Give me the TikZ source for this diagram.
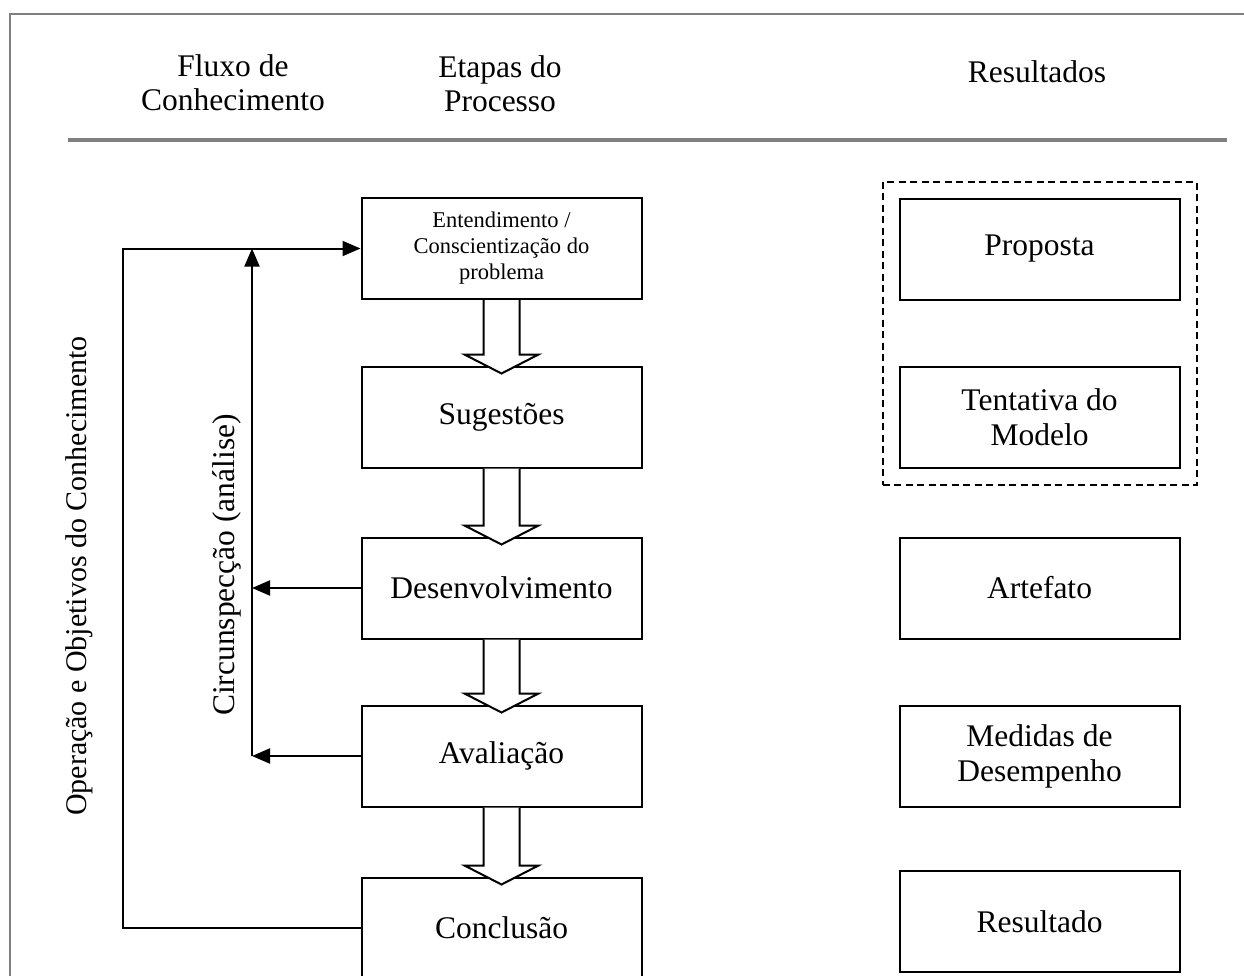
\documentclass[tikz,border=0pt]{standalone}
\usepackage{fontspec}
\setmainfont{Liberation Serif}
\usetikzlibrary{arrows.meta,calc,fit}
\definecolor{framegray}{RGB}{128,128,128}
\tikzset{
  stagebox/.style={draw=black, line width=2pt, fill=white, minimum width=280pt, minimum height=101pt, inner sep=0pt, align=center, font=\fontsize{31.5}{35}\selectfont},
  smalltext/.style={font=\fontsize{22.5}{26}\selectfont},
  headtext/.style={align=center, inner sep=0pt, font=\fontsize{31.5}{34}\selectfont},
  sidelabel/.style={rotate=90, inner sep=0pt, font=\fontsize{31.5}{35}\selectfont},
  conn/.style={draw=black, line width=2pt},
  tip/.style={-{Triangle[length=18pt,width=15pt]}},
  blk/.style={draw=black, line width=2pt, fill=white, line join=miter},
  dashbox/.style={draw=black, line width=2pt, dash pattern=on 7pt off 4.5pt, inner sep=0pt},
  framelineA/.style={draw=framegray, line width=2pt},
  rulelineA/.style={draw=framegray, line width=4pt}
}
\newcommand\blkarrow[2]{%
  \draw[blk] ($(#1.south)+(-18,0)$) -- ($(#2.north)+(-18,-11)$) -- ($(#2.north)+(-37,-11)$)
    -- ($(#2.north)+(0,8)$) -- ($(#2.north)+(37,-11)$) -- ($(#2.north)+(18,-11)$) -- ($(#1.south)+(18,0)$);}
\begin{document}
\begin{tikzpicture}[x=1pt,y=-1pt]
\useasboundingbox (0,0) rectangle (1244,975);
\clip (0,0) rectangle (1244,975);
% frame and header rule
\draw[framelineA] (10,976) -- (10,14) -- (1245,14);
\draw[rulelineA] (68,140) -- (1227,140);
% headers
\node[headtext] (hFluxo) at (233,83) {Fluxo de\\Conhecimento};
\node[headtext] (hEtapas) at (500,84) {Etapas do\\Processo};
\node[headtext] (hRes) at (1037,72) {Resultados};
% process stages
\node[stagebox, smalltext] (b1) at (501.5,248.5) {Entendimento /\\Conscientização do\\problema};
\node[stagebox] (b2) at (501.5,417) {Sugestões};
\node[stagebox] (b3) at (501.5,588) {Desenvolvimento};
\node[stagebox] (b4) at (501.5,756) {Avaliação};
\node[stagebox] (b5) at (501.5,928) {Conclusão};
% results
\node[stagebox] (r1) at (1039.5,249) {Proposta};
\node[stagebox] (r2) at (1039.5,417.5) {Tentativa do\\Modelo};
\node[stagebox] (r3) at (1039.5,588) {Artefato};
\node[stagebox] (r4) at (1039.5,756) {Medidas de\\Desempenho};
\node[stagebox] (r5) at (1039.5,921.5) {Resultado};
\node[dashbox, fit=(r1)(r2), inner xsep=16pt, inner ysep=16pt] (grp) {};
% block arrows
\blkarrow{b1}{b2}
\blkarrow{b2}{b3}
\blkarrow{b3}{b4}
\blkarrow{b4}{b5}
% feedback connectors
\coordinate (loopX) at (123,0);
\coordinate (circX) at (252,0);
\draw[conn,tip] (b5.west) -- (b5.west -| loopX) -- (b1.west -| loopX) -- (b1.west);
\draw[conn,tip] (b4.west -| circX) -- (b1.west -| circX);
\draw[conn,tip] (b3.west) -- (b3.west -| circX);
\draw[conn,tip] (b4.west) -- (b4.west -| circX);
% side labels
\node[sidelabel, font=\fontsize{30}{34}\selectfont] (opLbl) at (79,576) {Operação e Objetivos do Conhecimento};
\node[sidelabel] (circLbl) at (227,565) {Circunspecção (análise)};
\end{tikzpicture}
\end{document}
